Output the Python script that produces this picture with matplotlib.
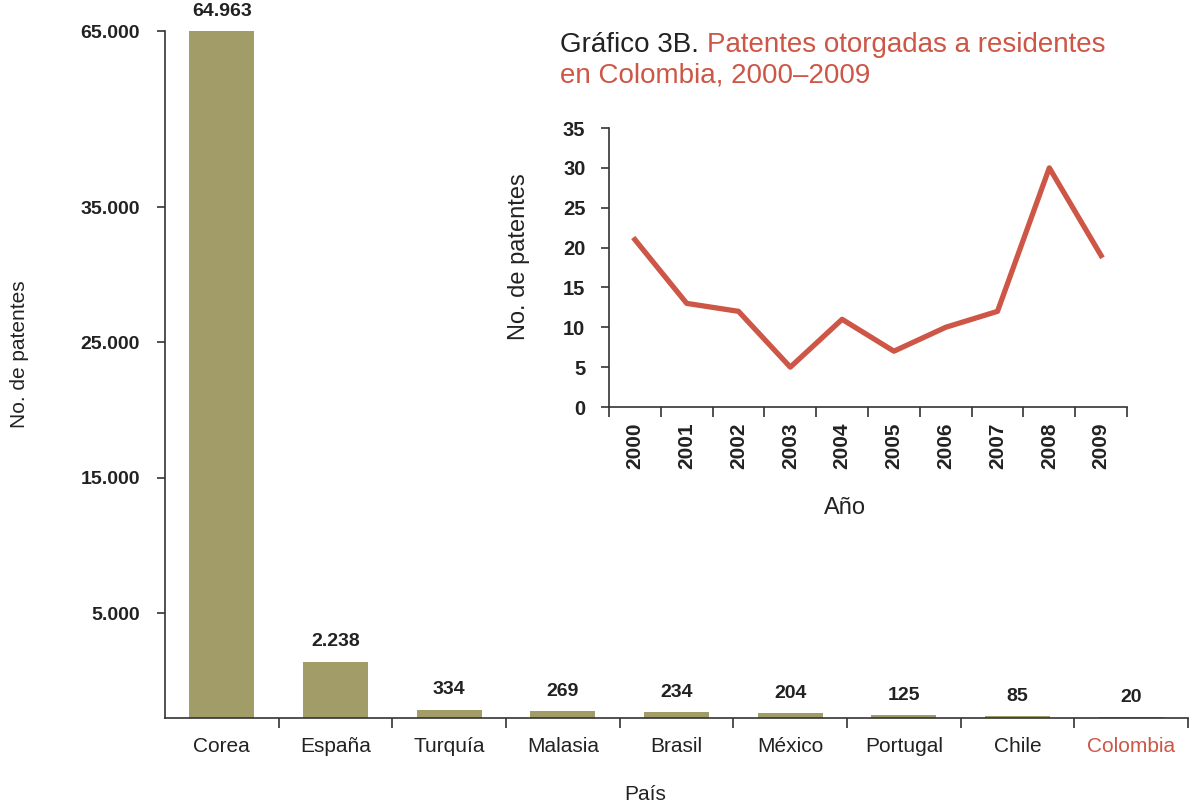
import numpy as np
import matplotlib
matplotlib.use("Agg")
import matplotlib.pyplot as plt

plt.rcParams['font.family'] = ['Liberation Sans', 'DejaVu Sans']

# main chart data
paises = ['Corea', 'España', 'Turquía', 'Malasia', 'Brasil', 'México', 'Portugal', 'Chile', 'Colombia']
patentes = [64963, 2238, 334, 269, 234, 204, 125, 85, 20]
yticks_main = [5000, 15000, 25000, 35000, 65000]

# inset data
anios = ['2000', '2001', '2002', '2003', '2004', '2005', '2006', '2007', '2008', '2009']
patentes_col = [21, 13, 12, 5, 11, 7, 10, 12, 30, 19]

bar_color = '#A29D68'
red = '#CD5646'
txt = '#222222'
axc = '#333333'

# the original axis is not linear: stretched at the bottom, compressed at the top
knot_val = [0, 2500, 5000, 35000, 65000]
knot_pos = [0, 63, 105, 511, 687]


def fwd(v):
    return np.interp(v, knot_val, knot_pos)


def inv(p):
    return np.interp(p, knot_pos, knot_val)


def fmt(v):
    return f"{v:,}".replace(',', '.')


fig = plt.figure(figsize=(11.98, 8.06), dpi=100)
ax = fig.add_axes([165/1198, 1-718/806, (1188-165)/1198, (718-31)/806])
ax.set_yscale('function', functions=(fwd, inv))
ax.set_ylim(0, 65000)
ax.set_xlim(-0.5, len(paises)-0.5)

x = np.arange(len(paises))
ax.bar(x, patentes, width=0.57, color=bar_color)
for xi, v in zip(x, patentes):
    ax.annotate(fmt(v), (xi, v), xytext=(0, 8), textcoords='offset points',
                ha='center', va='bottom', fontsize=14, color=txt, fontweight='bold')

for s in ['top', 'right']:
    ax.spines[s].set_visible(False)
for s in ['left', 'bottom']:
    ax.spines[s].set_color(axc)
    ax.spines[s].set_linewidth(1.2)

ax.set_yticks(yticks_main)
ax.set_yticklabels([fmt(v) for v in yticks_main], fontsize=14, color=txt, fontweight='bold')
ax.tick_params(axis='y', direction='out', length=6, width=1.2, color=axc, pad=12)
ax.set_yticks([], minor=True)

ax.set_xticks(x)
ax.set_xticklabels(paises, fontsize=15, color=txt)
ax.get_xticklabels()[-1].set_color(red)
ax.tick_params(axis='x', which='major', length=0, pad=14)
ax.set_xticks(np.arange(0.5, len(paises), 1), minor=True)
ax.tick_params(axis='x', which='minor', direction='out', length=7, width=1.2, color=axc)

ax.set_ylabel('No. de patentes', fontsize=15, color=txt)
ax.yaxis.set_label_coords(-0.133, 0.53)
ax.set_xlabel('País', fontsize=15, color=txt)
ax.xaxis.set_label_coords(0.469, -0.098)

# inset
ax2 = fig.add_axes([609/1198, 1-407/806, (1127-609)/1198, (407-128)/806])
xi2 = np.arange(len(anios))
ax2.plot(xi2, patentes_col, color=red, linewidth=3.8)
ax2.set_xlim(-0.5, len(anios)-0.5)
ax2.set_ylim(0, 35)
ax2.set_yticks(range(0, 36, 5))
ax2.set_yticklabels([str(v) for v in range(0, 36, 5)], fontsize=14.5, color=txt, fontweight='bold')
ax2.tick_params(axis='y', direction='out', length=6, width=1.2, color=axc, pad=11)
ax2.set_xticks(xi2)
ax2.set_xticklabels(anios, rotation=90, fontsize=15, color=txt, fontweight='bold')
ax2.tick_params(axis='x', which='major', length=0, pad=11)
ax2.set_xticks(np.arange(-0.5, len(anios), 1), minor=True)
ax2.tick_params(axis='x', which='minor', direction='out', length=7, width=1.2, color=axc)
for s in ['top', 'right']:
    ax2.spines[s].set_visible(False)
for s in ['left', 'bottom']:
    ax2.spines[s].set_color(axc)
    ax2.spines[s].set_linewidth(1.2)
ax2.set_ylabel('No. de patentes', fontsize=17, color=txt)
ax2.yaxis.set_label_coords(-0.152, 0.538)
ax2.set_xlabel('Año', fontsize=17, color=txt)
ax2.xaxis.set_label_coords(0.456, -0.323)

# title in two colours
t1 = fig.text(560/1198, 1-45/806, 'Gráfico 3B. ', fontsize=20, color=txt, va='center', ha='left')
ax.annotate('Patentes otorgadas a residentes', xy=(1, 0.5), xycoords=t1, va='center', ha='left',
            fontsize=20, color=red, annotation_clip=False)
fig.text(560/1198, 1-76/806, 'en Colombia, 2000–2009', fontsize=20, color=red, va='center', ha='left')

fig.savefig('out.png', dpi=100)
